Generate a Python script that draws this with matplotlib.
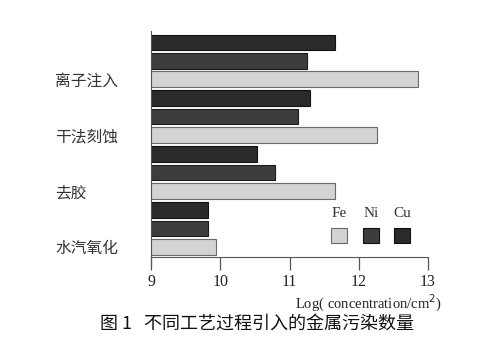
import matplotlib.pyplot as plt
import numpy as np
from matplotlib.patches import Rectangle

# process steps, bottom to top
processes = ["水汽氧化", "去胶", "干法刻蚀", "离子注入"]
fe = [9.94, 11.66, 12.26, 12.86]
ni = [9.82, 10.79, 11.12, 11.25]
cu = [9.82, 10.53, 11.30, 11.66]
x_ticks = [9, 10, 11, 12, 13]

metals = ["Fe", "Ni", "Cu"]
colors = {"Fe": "#d3d3d3", "Ni": "#3d3d3d", "Cu": "#2a2a2a"}

plt.rcParams["font.family"] = ["Noto Sans CJK SC", "DejaVu Sans"]

fig = plt.figure(figsize=(5, 3.42), dpi=100)
ax = fig.add_axes([0.302, 0.249, 0.554, 0.663])

y = np.arange(len(processes))
step = 0.33
h = 0.28
ax.barh(y - step, fe, height=h, color=colors["Fe"], edgecolor="#6a6a6a", linewidth=0.8)
ax.barh(y, ni, height=h, color=colors["Ni"], edgecolor="#1a1a1a", linewidth=0.8)
ax.barh(y + step, cu, height=h, color=colors["Cu"], edgecolor="#111111", linewidth=0.8)

ax.set_xlim(9, 13)
ax.set_ylim(-0.51, 3.55)
ax.set_xticks(x_ticks)
ax.set_xticklabels([str(t) for t in x_ticks], family="Liberation Serif", fontsize=11.5,
                   color="#222222")
ax.set_yticks(y - step)
ax.set_yticklabels(processes, fontsize=11.3, color="#333333", ha="left")
ax.tick_params(axis="y", length=0, pad=69)
ax.tick_params(axis="x", length=9, width=0.9, color="#555555", pad=3)

for side in ["top", "right"]:
    ax.spines[side].set_visible(False)
ax.spines["bottom"].set_color("#555555")
ax.spines["left"].set_color("#555555")
ax.spines["left"].set_bounds(-0.67, 3.53)

ax.set_xlabel("Log( concentration/cm$^2$)", family="Liberation Serif", fontsize=10.5,
              color="#222222", loc="right", labelpad=1)
ax.xaxis.set_label_coords(1.05, -0.16)

# legend: labels above swatches
sw_x = [0.65, 0.765, 0.877]
for m, sx in zip(metals, sw_x):
    ec = "#6a6a6a" if m == "Fe" else "#111111"
    ax.add_patch(Rectangle((sx, 0.062), 0.058, 0.066, transform=ax.transAxes,
                           facecolor=colors[m], edgecolor=ec, linewidth=0.8, clip_on=False))
    ax.text(sx + 0.029, 0.19, m, transform=ax.transAxes, ha="center", va="center",
            family="Liberation Serif", fontsize=11, color="#333333")

fig.text(0.513, 0.055, "图 1   不同工艺过程引入的金属污染数量", ha="center", va="center",
         fontsize=13, color="#111111")

fig.savefig("out.png", dpi=100)
